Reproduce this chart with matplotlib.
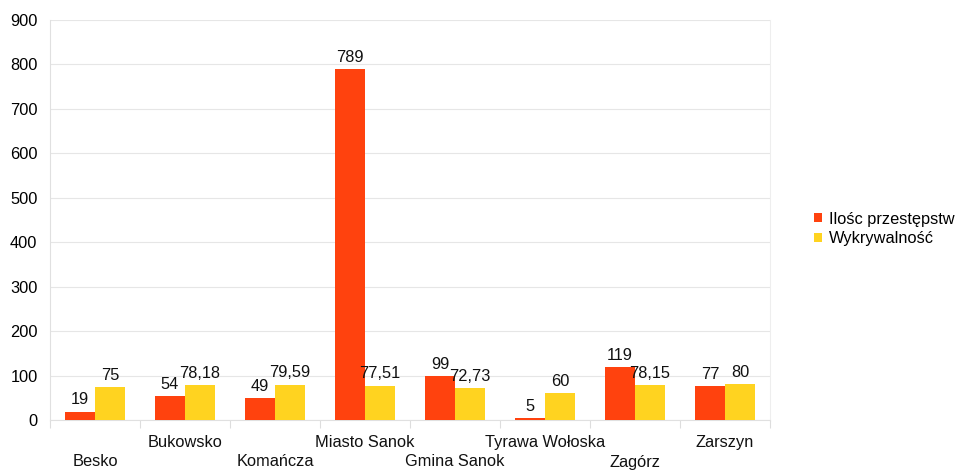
import matplotlib
matplotlib.use("Agg")
import matplotlib.pyplot as plt
import numpy as np

categories = ["Besko", "Bukowsko", "Komańcza", "Miasto Sanok", "Gmina Sanok",
              "Tyrawa Wołoska", "Zagórz", "Zarszyn"]
crimes = [19, 54, 49, 789, 99, 5, 119, 77]
detection = [75, 78.18, 79.59, 77.51, 72.73, 60, 78.15, 80]
series_names = ["Ilośc przestępstw", "Wykrywalność"]
yticks = [0, 100, 200, 300, 400, 500, 600, 700, 800, 900]

plt.rcParams['font.family'] = ['Liberation Sans', 'DejaVu Sans']
FS = 11.8

fig = plt.figure(figsize=(9.6, 4.7), dpi=100)
ax = fig.add_axes([50/960, 1-420/470, 720/960, 400/470])

x = np.arange(len(categories))
w = 1/3
red = "#FF420E"
yellow = "#FFD320"
b1 = ax.bar(x - w/2, crimes, w, color=red, label=series_names[0], zorder=3)
b2 = ax.bar(x + w/2, detection, w, color=yellow, label=series_names[1], zorder=3)

def fmt(v):
    if float(v).is_integer():
        return str(int(v))
    return f"{v:.2f}".replace(".", ",")

for bars, vals in ((b1, crimes), (b2, detection)):
    for r, v in zip(bars, vals):
        ax.annotate(fmt(v), (r.get_x() + r.get_width()/2, v), xytext=(0, 3),
                    textcoords="offset points", ha="center", va="bottom",
                    fontsize=FS, color="#111111", zorder=4)

ax.set_xlim(-0.5, len(categories) - 0.5)
ax.set_ylim(0, 900)
ax.set_yticks(yticks)
ax.set_yticklabels([str(t) for t in yticks], fontsize=FS)
ax.yaxis.grid(True, color="#e6e6e6", linewidth=0.8, zorder=0)
ax.tick_params(axis="y", length=0, pad=9)

# category boundaries as minor ticks
ax.set_xticks(np.arange(-0.5, len(categories)), minor=True)
ax.set_xticks(x)
ax.set_xticklabels([])
ax.tick_params(axis="x", which="major", length=0)
ax.tick_params(axis="x", which="minor", length=6, color="#dddddd", width=0.8)
for i, c in enumerate(categories):
    yoff = -0.057 if i % 2 == 1 else -0.105
    ax.text(i, yoff, c, transform=ax.get_xaxis_transform(), ha="center",
            va="center", fontsize=FS, color="#111111")

ax.spines["top"].set_visible(False)
ax.spines["left"].set_color("#e0e0e0")
ax.spines["bottom"].set_color("#e0e0e0")
ax.spines["right"].set_color("#eeeeee")

leg = fig.legend(handles=[b1, b2], labels=series_names, loc="center left",
                 bbox_to_anchor=(799/960, 1-229/470), frameon=False,
                 fontsize=FS, handlelength=0.5, handleheight=0.5,
                 handletextpad=0.45, labelspacing=0.3)

fig.savefig("out.png", dpi=100, facecolor="white")
